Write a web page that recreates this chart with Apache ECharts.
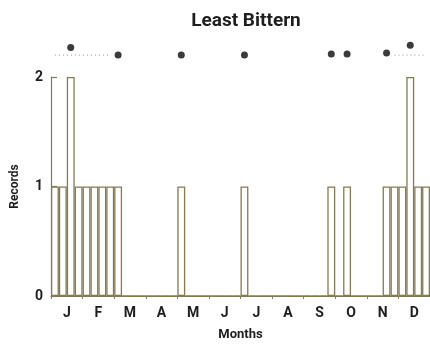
<!DOCTYPE html>
<html>
<head>
<meta charset="utf-8">
<script src="https://cdn.jsdelivr.net/npm/echarts@6/dist/echarts.min.js"></script>
<style>
  html, body { margin: 0; padding: 0; background: #ffffff; }
  #chart { width: 430px; height: 346px; }
</style>
</head>
<body>
<div id="chart"></div>
<script>
// ---- data ----
const months = ['J', 'F', 'M', 'A', 'M', 'J', 'J', 'A', 'S', 'O', 'N', 'D'];
// weekly record counts, 4 weeks per month, January week 1 first
const weekRecords = [
  1, 1, 2, 1,   // Jan
  1, 1, 1, 1,   // Feb
  1, 0, 0, 0,   // Mar
  0, 0, 0, 0,   // Apr
  1, 0, 0, 0,   // May
  0, 0, 0, 0,   // Jun
  1, 0, 0, 0,   // Jul
  0, 0, 0, 0,   // Aug
  0, 0, 0, 1,   // Sep
  0, 1, 0, 0,   // Oct
  0, 0, 1, 1,   // Nov
  1, 2, 1, 1    // Dec
];
// dots above the bars: week index and level
const dotWeeks  = [2, 8, 16, 24, 35, 37, 42, 45];
const dotLevels = [2.27, 2.2, 2.2, 2.2, 2.21, 2.21, 2.22, 2.29];
// dotted guide line level and its week spans
const guideLevel = 2.2;
const guideLeftWeeks = [0, 7];
const guideRightWeeks = [43, 47];
const yTicks = [0, 1, 2];

const weekCats = weekRecords.map((_, i) => 'w' + (i + 1));
const FONT = "Roboto, 'Liberation Sans Narrow', sans-serif";
const INK = '#1e1e1e';
const OLIVE = '#857a4f';

const chart = echarts.init(document.getElementById('chart'), null, { renderer: 'canvas' });
chart.setOption({
  animation: false,
  backgroundColor: '#ffffff',
  title: {
    text: 'Least Bittern',
    left: 241,
    top: 7,
    textAlign: 'center',
    textStyle: { fontFamily: FONT, fontWeight: 'bold', fontSize: 19, color: INK }
  },
  grid: { left: 51, right: 0, top: 77, bottom: 46, containLabel: false },
  xAxis: [
    {
      type: 'category',
      data: weekCats,
      position: 'bottom',
      boundaryGap: true,
      axisLine: { show: true, lineStyle: { color: OLIVE, width: 1.2 } },
      axisTick: { show: false },
      axisLabel: { show: false },
      splitLine: { show: false }
    },
    {
      type: 'category',
      data: months,
      position: 'bottom',
      boundaryGap: true,
      axisLine: { show: false },
      axisTick: { show: true, length: 3, lineStyle: { color: '#8a8060', width: 1 } },
      axisLabel: {
        show: true, margin: 10, color: INK,
        fontFamily: FONT, fontWeight: 'bold', fontSize: 14
      },
      name: 'Months',
      nameLocation: 'middle',
      nameGap: 32,
      nameTextStyle: { fontFamily: FONT, fontWeight: 'bold', fontSize: 13, color: INK },
      splitLine: { show: false }
    }
  ],
  yAxis: {
    type: 'value',
    min: 0,
    max: 2,
    interval: 1,
    axisLine: { show: true, lineStyle: { color: '#7d7a66', width: 1.2 } },
    axisTick: { show: true, inside: true, length: 6, lineStyle: { color: '#7d7a66', width: 1.2 } },
    axisLabel: {
      margin: 8, color: INK, fontFamily: FONT, fontWeight: 'bold', fontSize: 14,
      formatter: v => (yTicks.indexOf(v) >= 0 ? String(v) : '')
    },
    splitLine: { show: false },
    name: 'Records',
    nameLocation: 'middle',
    nameGap: 30,
    nameRotate: 90,
    nameTextStyle: { fontFamily: FONT, fontWeight: 'bold', fontSize: 12, color: INK }
  },
  series: [
    {
      type: 'bar',
      xAxisIndex: 0,
      yAxisIndex: 0,
      data: weekRecords,
      barWidth: '100%',
      barCategoryGap: '0%',
      itemStyle: { color: '#ffffff', borderColor: OLIVE, borderWidth: 1.3 },
      silent: true
    },
    {
      type: 'line',
      xAxisIndex: 0,
      yAxisIndex: 0,
      data: [[guideLeftWeeks[0], guideLevel], [guideLeftWeeks[1], guideLevel]],
      symbol: 'none',
      clip: false,
      lineStyle: { color: '#999999', width: 1, type: [1, 3] },
      silent: true
    },
    {
      type: 'line',
      xAxisIndex: 0,
      yAxisIndex: 0,
      data: [[guideRightWeeks[0], guideLevel], [guideRightWeeks[1], guideLevel]],
      symbol: 'none',
      clip: false,
      lineStyle: { color: '#999999', width: 1, type: [1, 3] },
      silent: true
    },
    {
      type: 'scatter',
      xAxisIndex: 0,
      yAxisIndex: 0,
      data: dotWeeks.map((w, i) => [w, dotLevels[i]]),
      symbol: 'circle',
      symbolSize: 7,
      clip: false,
      itemStyle: { color: '#0a0a0a' },
      silent: true
    }
  ]
});
</script>
</body>
</html>
